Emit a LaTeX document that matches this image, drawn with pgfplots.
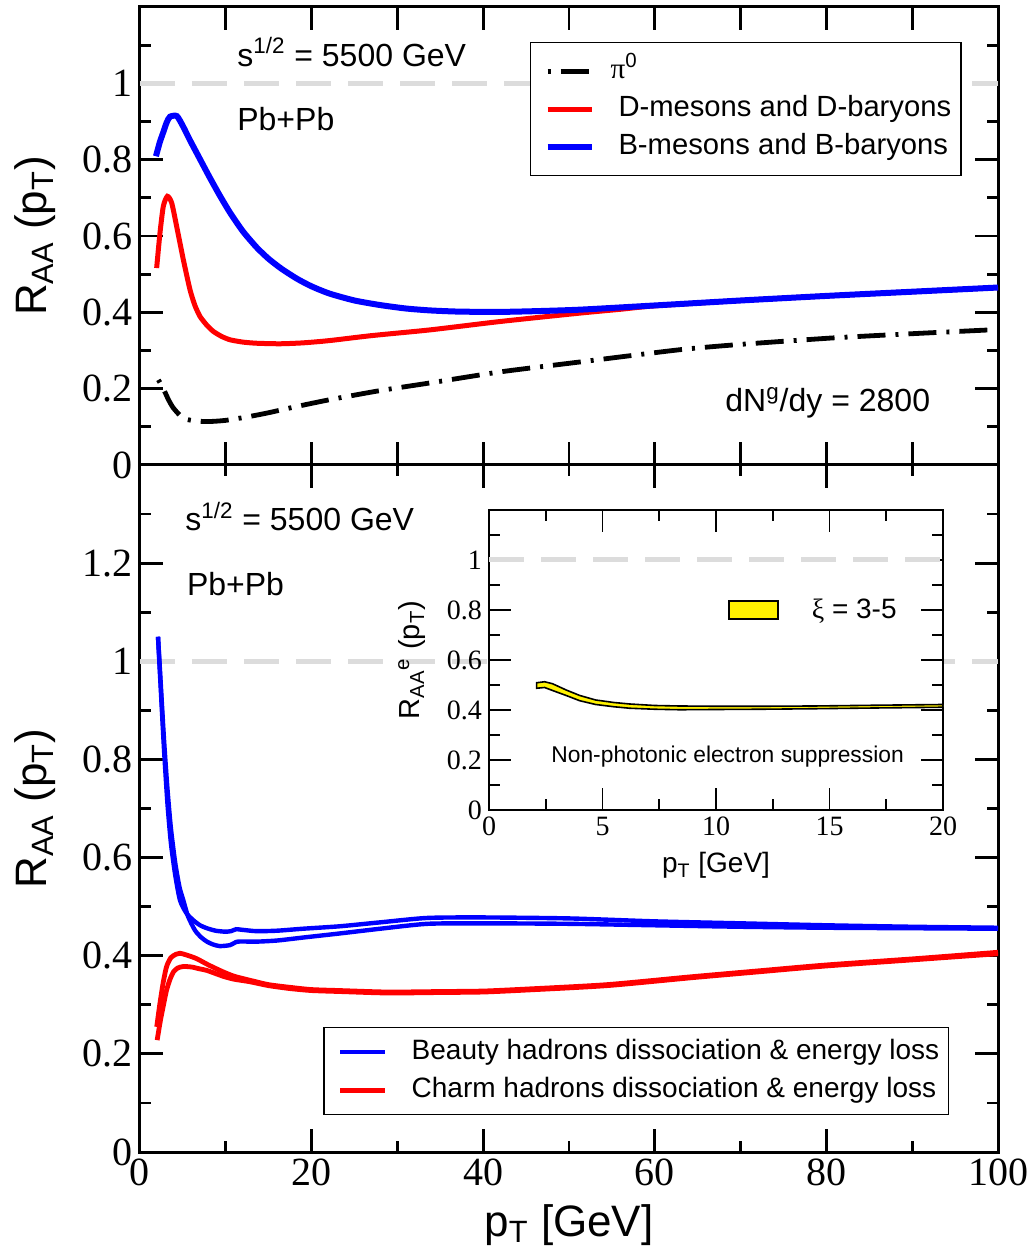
\documentclass[border=0pt]{standalone}
\usepackage{fontspec}
\setmainfont{Liberation Sans}
\newfontfamily\seriffont{Liberation Serif}
\usepackage{pgfplots}
\pgfplotsset{compat=1.18}
\definecolor{dgray}{RGB}{220,220,220}
\definecolor{pblue}{RGB}{0,0,255}
\definecolor{pred}{RGB}{255,0,0}
\newcommand\tickfont{\seriffont\fontsize{20pt}{24pt}\selectfont}
\newcommand\insettickfont{\seriffont\fontsize{14pt}{16pt}\selectfont}
\newcommand\serifnum[1]{\mbox{\seriffont\pgfmathprintnumber[assume math mode=true]{#1}}}
\pgfplotsset{
  mainaxis/.style={
    scale only axis, width=429pt,
    xmin=0, xmax=100,
    tick align=inside,
    major tick length=11.5pt, minor tick length=5.5pt,
    every tick/.style={black, line width=1.4pt},
    axis line style={line width=1.5pt},
    tick label style={font=\tickfont},
    xticklabel={\serifnum{\tick}},
    yticklabel={\serifnum{\tick}},
    label style={font=\fontsize{22pt}{26pt}\selectfont},
    ylabel style={at={(axis description cs:-0.1224,0.5)}, anchor=center, rotate=0},
    clip=true,
  },
}
\begin{document}
\begin{tikzpicture}
\useasboundingbox (-70pt,-50.5pt) rectangle (445.5pt,576pt);

% ---------------- bottom panel ----------------
\begin{axis}[mainaxis,
  at={(0pt,0pt)}, anchor=south west, height=343.5pt,
  ymin=0, ymax=1.4,
  xtick={0,20,40,60,80,100}, minor xtick={10,30,50,70,90},
  ytick={0,0.2,0.4,0.6,0.8,1,1.2}, minor ytick={0.1,0.3,0.5,0.7,0.9,1.1,1.3},
  ylabel={R\textsubscript{AA} (p\textsubscript{T})},
  xlabel={p\textsubscript{T} [GeV]},
  xlabel style={at={(axis description cs:0.5,0)}, anchor=base, yshift=-42pt},
  legend style={at={(axis description cs:0.943,0.182)}, anchor=north east,
    draw=black, line width=0.75pt, fill=white,
    font=\fontsize{14pt}{16pt}\selectfont,
    inner xsep=4.5pt, inner ysep=2.75pt, row sep=0pt,
    nodes={inner xsep=0pt, inner ysep=2pt, text height=11pt, text depth=4pt},
    cells={anchor=west},
    /tikz/every odd column/.append style={column sep=12pt}},
  legend image code/.code={\path (-2.5pt,0pt); \draw[#1] (0pt,0pt) -- (22.5pt,0pt);},
]
\addplot[dgray, line width=2.5pt, dash pattern=on 17.5pt off 8.5pt, forget plot] coordinates {(0,1) (100,1)};
\addplot[pblue, line width=2.2pt, smooth, tension=0.4] coordinates {
(2.1,1.05)(2.4,0.95)(2.8,0.82)(3.2,0.71)(3.6,0.63)(4.1,0.565)(4.66,0.513)(5.4,0.487)(6.2,0.4725)(7.0,0.462)(7.8,0.456)(8.8,0.451)(9.9,0.449)(10.6,0.450)(11.2,0.454)(11.8,0.453)(13.6,0.450)(16,0.451)(19,0.455)(23.3,0.460)(28,0.468)(33.5,0.477)(40,0.478)(50,0.476)(60,0.470)(70,0.466)(80,0.462)(90,0.459)(100,0.457)};
\addlegendentry{Beauty hadrons dissociation \& energy loss}
\addplot[pblue, line width=2.2pt, smooth, tension=0.4, forget plot] coordinates {
(2.1,1.05)(2.4,0.96)(2.8,0.84)(3.2,0.74)(3.6,0.66)(4.1,0.59)(4.6,0.54)(5.05,0.513)(5.6,0.48)(6.4,0.452)(7.1,0.438)(7.8,0.4287)(8.5,0.423)(9.3,0.4196)(10.5,0.4216)(11.2,0.428)(11.8,0.429)(13.6,0.4287)(16,0.431)(19,0.437)(23.3,0.4454)(28,0.455)(33.5,0.465)(40,0.466)(50,0.465)(60,0.462)(70,0.459)(80,0.457)(90,0.456)(100,0.455)};
\addplot[pred, line width=2.4pt, smooth, tension=0.4] coordinates {
(1.95,0.255)(2.3,0.30)(2.7,0.345)(3.1,0.378)(3.6,0.396)(4.2,0.403)(4.66,0.405)(5.5,0.401)(6.6,0.394)(8,0.381)(9.7,0.367)(11,0.358)(12.8,0.350)(15,0.341)(17.5,0.3355)(20,0.331)(23.3,0.329)(28.9,0.326)(35,0.327)(40,0.328)(45,0.332)(54.4,0.341)(64.2,0.357)(72,0.369)(79.9,0.381)(90.4,0.394)(100,0.407)};
\addlegendentry{Charm hadrons dissociation \& energy loss}
\addplot[pred, line width=2.4pt, smooth, tension=0.4, forget plot] coordinates {
(2.0,0.228)(2.4,0.27)(2.8,0.305)(3.1,0.330)(3.5,0.352)(3.9,0.367)(4.4,0.375)(5.05,0.378)(6,0.377)(7,0.373)(7.8,0.370)(9.7,0.358)(11,0.352)(12.8,0.347)(15,0.339)(17.5,0.333)(20,0.329)(23.3,0.327)(28.9,0.324)(35,0.325)(40,0.326)(45,0.330)(54.4,0.339)(64.2,0.355)(72,0.367)(79.9,0.379)(90.4,0.392)(100,0.404)};
\node[anchor=base west, font=\fontsize{16pt}{18pt}\selectfont, inner sep=0pt] at (axis description cs:0.0524,0.904) {s\textsuperscript{1/2} = 5500 GeV};
\node[anchor=base west, font=\fontsize{16pt}{18pt}\selectfont, inner sep=0pt] at (axis description cs:0.0544,0.810) {Pb+Pb};
\end{axis}

% ---------------- top panel ----------------
\begin{axis}[mainaxis,
  at={(0pt,343.5pt)}, anchor=south west, height=229pt,
  ymin=0, ymax=1.2,
  xtick={0,10,...,100}, xticklabels=\empty,
  ytick={0,0.2,0.4,0.6,0.8,1}, minor ytick={0.1,0.3,0.5,0.7,0.9,1.1},
  ylabel={R\textsubscript{AA} (p\textsubscript{T})},
  legend style={at={(axis description cs:0.958,0.9236)}, anchor=north east,
    draw=black, line width=0.75pt, fill=white,
    font=\fontsize{14.6pt}{17pt}\selectfont,
    inner xsep=5pt, inner ysep=4.75pt, row sep=0pt,
    nodes={inner xsep=0pt, inner ysep=2pt, text height=11pt, text depth=4pt},
    cells={anchor=west},
    /tikz/every odd column/.append style={column sep=8pt}},
  legend image code/.code={\path (-2pt,0pt); \draw[#1] (0pt,0pt) -- (22pt,0pt);},
]
\addplot[dgray, line width=2.5pt, dash pattern=on 17.5pt off 8.5pt, forget plot] coordinates {(0,1) (100,1)};
\addplot[black, line width=2.4pt, dash pattern=on 14pt off 5pt on 1.5pt off 5pt, dash phase=19pt, smooth, tension=0.4] coordinates {
(2.14,0.223)(2.7,0.201)(3.3,0.172)(3.9,0.149)(5.05,0.1225)(6.6,0.115)(8.2,0.114)(10,0.117)(12.5,0.126)(15,0.137)(18,0.152)(22.1,0.171)(28,0.195)(33.8,0.215)(42,0.244)(51.3,0.270)(62.9,0.302)(70,0.316)(80.8,0.333)(90,0.344)(100,0.355)};
\addlegendentry{{\seriffont π}\textsuperscript{0}}
\addplot[pred, line width=2.5pt, smooth, tension=0.4] coordinates {
(1.94,0.516)(2.33,0.608)(2.72,0.678)(3.19,0.704)(3.69,0.687)(4.27,0.6255)(5.05,0.538)(5.83,0.459)(6.4,0.418)(7.0,0.389)(7.8,0.366)(8.55,0.350)(9.5,0.337)(10.5,0.328)(12,0.322)(13.6,0.319)(16.3,0.3176)(19,0.320)(22.1,0.326)(27,0.339)(33.8,0.354)(42,0.376)(51.3,0.398)(56,0.408)(60,0.417)(70,0.431)(80,0.443)(90,0.454)(100,0.465)};
\addlegendentry{\hspace{4pt}D-mesons and D-baryons}
\addplot[pblue, line width=3pt, smooth, tension=0.4] coordinates {
(1.86,0.809)(2.3,0.845)(2.7,0.871)(3.1,0.897)(3.5,0.9126)(4.3,0.914)(5.0,0.888)(5.8,0.852)(6.6,0.818)(7.4,0.784)(8.16,0.752)(9.3,0.706)(10.5,0.661)(12,0.612)(13.6,0.570)(15,0.540)(16.5,0.514)(18.3,0.488)(20,0.468)(22.1,0.449)(25,0.431)(28,0.419)(31,0.410)(33.8,0.405)(37,0.402)(41.6,0.401)(46,0.403)(51.3,0.407)(60,0.418)(70,0.431)(80,0.443)(90,0.454)(100,0.465)};
\addlegendentry{\hspace{4pt}B-mesons and B-baryons}
\node[anchor=base west, font=\fontsize{16pt}{18pt}\selectfont, inner sep=0pt] at (axis description cs:0.113,0.871) {s\textsuperscript{1/2} = 5500 GeV};
\node[anchor=base west, font=\fontsize{16pt}{18pt}\selectfont, inner sep=0pt] at (axis description cs:0.113,0.7314) {Pb+Pb};
\node[anchor=base west, font=\fontsize{16pt}{18pt}\selectfont, inner sep=0pt] at (axis description cs:0.6818,0.1157) {dN\textsuperscript{g}/dy = 2800};
\end{axis}

% ---------------- inset ----------------
\begin{axis}[
  at={(174.5pt,171pt)}, anchor=south west, scale only axis, width=227pt, height=150pt,
  xmin=0, xmax=20, ymin=0, ymax=1.2,
  axis background/.style={fill=white},
  xtick={0,5,10,15,20}, minor xtick={2.5,7.5,12.5,17.5},
  ytick={0,0.2,0.4,0.6,0.8,1}, minor ytick={0.1,0.3,0.5,0.7,0.9,1.1},
  xticklabel={\serifnum{\tick}},
  yticklabel={\serifnum{\tick}},
  tick align=inside,
  major tick length=11pt, minor tick length=5.5pt,
  every tick/.style={black, line width=0.9pt},
  axis line style={line width=1pt},
  tick label style={font=\insettickfont},
  xlabel={p\textsubscript{T} [GeV]},
  xlabel style={font=\fontsize{14pt}{16pt}\selectfont, at={(axis description cs:0.5,0)}, anchor=base, yshift=-31.5pt},
  ylabel={R\textsubscript{AA}\textsuperscript{e} (p\textsubscript{T})},
  ylabel style={font=\fontsize{14.5pt}{16pt}\selectfont, at={(axis description cs:-0.1696,0.5)}, anchor=center},
  legend style={at={(axis description cs:0.526,0.667)}, anchor=west,
    draw=none, fill=none, inner sep=0pt,
    font=\fontsize{14pt}{16pt}\selectfont,
    nodes={inner sep=0pt},
    /tikz/every odd column/.append style={column sep=16.5pt}},
  legend image code/.code={\draw[#1] (0pt,-4.5pt) rectangle (24.5pt,4.5pt);},
]
\addplot[dgray, line width=2.5pt, dash pattern=on 17.5pt off 8.5pt, forget plot] coordinates {(0,1) (20,1)};
\addplot[fill=yellow, draw=black, line width=0.8pt] coordinates {
(2.1,0.509)(2.45,0.513)(2.8,0.505)(3.4,0.480)(4.0,0.458)(4.7,0.440)(5.5,0.430)(6.2,0.424)(7.3,0.418)(8.4,0.416)(10,0.415)(12,0.415)(14.3,0.416)(17,0.419)(20,0.422)
(20,0.411)(17,0.408)(14.3,0.405)(12,0.403)(10,0.402)(8.4,0.401)(7.3,0.403)(6.2,0.407)(5.5,0.413)(4.7,0.422)(4.0,0.437)(3.4,0.458)(2.8,0.478)(2.45,0.490)(2.1,0.487)} -- cycle;
\addlegendentry{{\seriffont ξ} = 3-5}
\node[anchor=base west, font=\fontsize{11.4pt}{13pt}\selectfont, inner sep=0pt] at (axis description cs:0.1366,0.1567) {Non-photonic electron suppression};
\end{axis}
\end{tikzpicture}
\end{document}
